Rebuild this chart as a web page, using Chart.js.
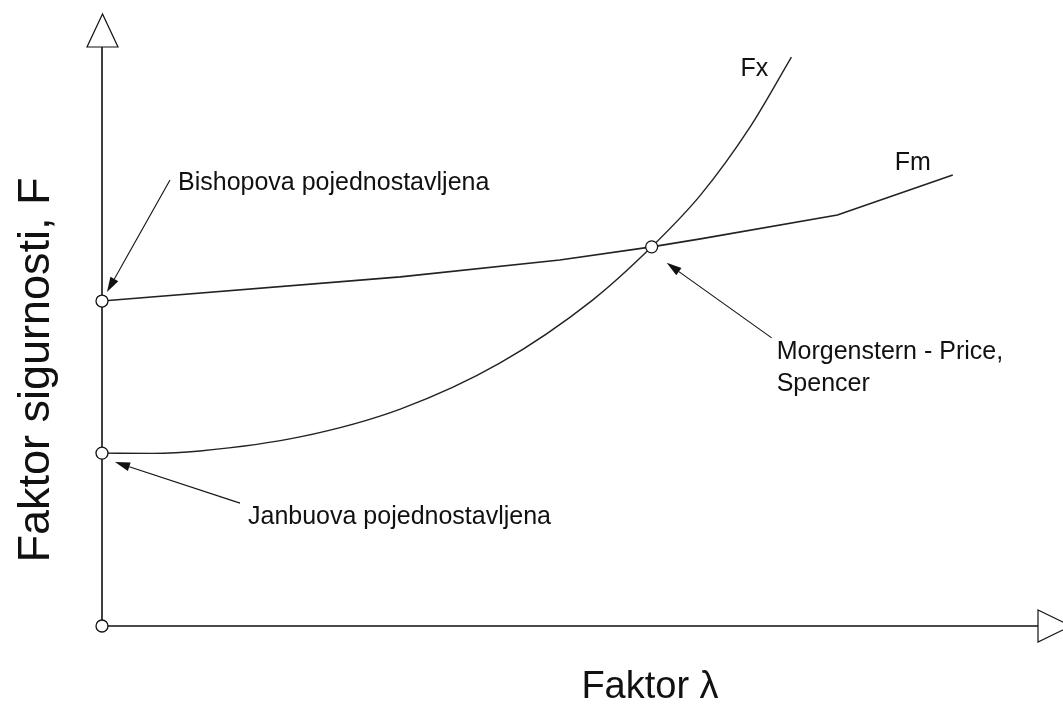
<!DOCTYPE html>
<html>
<head>
<meta charset="utf-8">
<script src="https://cdn.jsdelivr.net/npm/chart.js@4"></script>
<style>
  html, body { margin: 0; padding: 0; background: #fff; }
  #wrap { width: 1063px; height: 708px; }
</style>
</head>
<body>
<div id="wrap"><canvas id="chart"></canvas></div>
<script>
// lambda values and safety factors
const fxLambda = [0, 0.054, 0.1045, 0.211, 0.318, 0.424, 0.523, 0.586, 0.638, 0.691, 0.735];
const fxValues = [0.565, 0.564, 0.572, 0.618, 0.709, 0.859, 1.065, 1.239, 1.408, 1.631, 1.859];

const fmLambda = [0, 0.318, 0.488, 0.586, 0.638, 0.784, 0.907];
const fmValues = [1.062, 1.141, 1.196, 1.239, 1.265, 1.343, 1.474];

// circled solutions: Bishop, Janbu, Morgenstern-Price/Spencer, origin
const keyLambda = [0, 0, 0.586, 0];
const keyValues = [1.062, 0.565, 1.239, 0];

const xTitle = 'Faktor \u03bb';
const yTitle = 'Faktor sigurnosti, F';

const toXY = (xs, ys) => xs.map((x, i) => ({ x, y: ys[i] }));

const FONT = '"Liberation Sans", Arial, sans-serif';
const INK = '#111';

function arrow(ctx, x1, y1, x2, y2) {
  const ang = Math.atan2(y2 - y1, x2 - x1);
  const len = 15, half = 4.5;
  const bx = x2 - Math.cos(ang) * len, by = y2 - Math.sin(ang) * len;
  ctx.beginPath();
  ctx.moveTo(x1, y1);
  ctx.lineTo(bx, by);
  ctx.stroke();
  ctx.beginPath();
  ctx.moveTo(x2, y2);
  ctx.lineTo(bx - Math.sin(ang) * half, by + Math.cos(ang) * half);
  ctx.lineTo(bx + Math.sin(ang) * half, by - Math.cos(ang) * half);
  ctx.closePath();
  ctx.fill();
}

const axesPlugin = {
  id: 'axes',
  beforeDatasetsDraw(chart) {
    const { ctx, chartArea, scales } = chart;
    const x0 = scales.x.getPixelForValue(0);
    const y0 = scales.y.getPixelForValue(0);
    const top = chartArea.top, right = chartArea.right;
    ctx.save();
    ctx.strokeStyle = INK;
    ctx.fillStyle = '#fff';
    // vertical axis with open arrow
    ctx.lineWidth = 1.6;
    ctx.beginPath();
    ctx.moveTo(x0, y0);
    ctx.lineTo(x0, top + 33);
    ctx.stroke();
    ctx.beginPath();
    ctx.moveTo(x0 + 0.5, top);
    ctx.lineTo(x0 - 15, top + 33);
    ctx.lineTo(x0 + 16, top + 33);
    ctx.closePath();
    ctx.fill();
    ctx.lineWidth = 1.2;
    ctx.stroke();
    // horizontal axis with open arrow
    ctx.lineWidth = 1.6;
    ctx.beginPath();
    ctx.moveTo(x0, y0);
    ctx.lineTo(right - 2, y0);
    ctx.stroke();
    ctx.beginPath();
    ctx.moveTo(right - 2, y0 - 16);
    ctx.lineTo(right + 31, y0);
    ctx.lineTo(right - 2, y0 + 16);
    ctx.closePath();
    ctx.fill();
    ctx.lineWidth = 1.2;
    ctx.stroke();
    ctx.restore();
  },
  afterDatasetsDraw(chart) {
    const { ctx, scales } = chart;
    const px = (x, y) => [scales.x.getPixelForValue(x), scales.y.getPixelForValue(y)];
    const [bx, by] = px(keyLambda[0], keyValues[0]);
    const [jx, jy] = px(keyLambda[1], keyValues[1]);
    const [mx, my] = px(keyLambda[2], keyValues[2]);
    const [fxx, fxy] = px(fxLambda[fxLambda.length - 1], fxValues[fxValues.length - 1]);
    const [fmx, fmy] = px(fmLambda[fmLambda.length - 1], fmValues[fmValues.length - 1]);

    ctx.save();
    ctx.strokeStyle = INK;
    ctx.fillStyle = INK;
    ctx.lineWidth = 1.1;
    arrow(ctx, bx + 68, by - 121, bx + 5, by - 9);
    arrow(ctx, jx + 138, jy + 50, jx + 13, jy + 9);
    arrow(ctx, mx + 120, my + 91, mx + 15, my + 16);

    ctx.font = '25px ' + FONT;
    ctx.textAlign = 'left';
    ctx.textBaseline = 'middle';
    ctx.fillText('Bishopova pojednostavljena', bx + 76, by - 118);
    ctx.fillText('Janbuova pojednostavljena', jx + 146, jy + 64);
    ctx.fillText('Morgenstern - Price,', mx + 125, my + 105);
    ctx.fillText('Spencer', mx + 125, my + 137);
    ctx.fillText('Fx', fxx - 51, fxy + 12);
    ctx.fillText('Fm', fmx - 58, fmy - 12);

    // axis titles
    ctx.textAlign = 'center';
    ctx.font = '38px ' + FONT;
    ctx.fillText(xTitle, 650, 688);
    ctx.font = '45px ' + FONT;
    ctx.save();
    ctx.translate(37, 370);
    ctx.rotate(-Math.PI / 2);
    ctx.fillText(yTitle, 0, 0);
    ctx.restore();
    ctx.restore();
  }
};

new Chart(document.getElementById('chart'), {
  type: 'line',
  data: {
    datasets: [
      {
        label: 'solutions',
        data: toXY(keyLambda, keyValues),
        showLine: false,
        clip: false,
        pointRadius: 6,
        pointBackgroundColor: '#fff',
        pointBorderColor: INK,
        pointBorderWidth: 1.3
      },
      {
        label: 'Fx',
        data: toXY(fxLambda, fxValues),
        borderColor: '#222',
        borderWidth: 1.4,
        pointRadius: 0,
        fill: false,
        cubicInterpolationMode: 'monotone'
      },
      {
        label: 'Fm',
        data: toXY(fmLambda, fmValues),
        borderColor: '#222',
        borderWidth: 1.6,
        pointRadius: 0,
        fill: false,
        tension: 0
      }
    ]
  },
  options: {
    responsive: true,
    maintainAspectRatio: false,
    animation: false,
    layout: { padding: { left: 102, top: 14, right: 23, bottom: 82 } },
    plugins: { legend: { display: false }, tooltip: { enabled: false } },
    scales: {
      x: { type: 'linear', display: false, min: 0, max: 1 },
      y: { type: 'linear', display: false, min: 0, max: 2 }
    }
  },
  plugins: [axesPlugin]
});
</script>
</body>
</html>
